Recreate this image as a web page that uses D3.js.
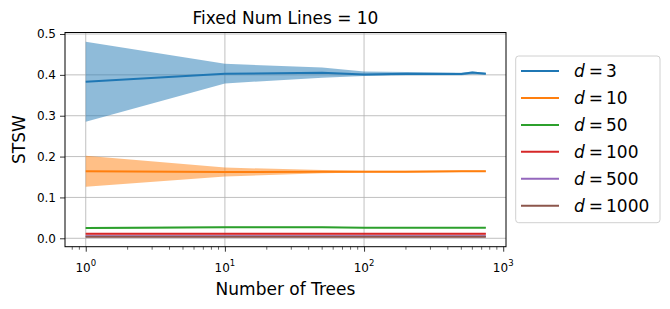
<!DOCTYPE html>
<html>
<head>
<meta charset="utf-8">
<script src="https://cdn.jsdelivr.net/npm/d3@7"></script>
<style>
  body { margin: 0; background: #fff; }
  svg { font-family: "DejaVu Sans", sans-serif; }
</style>
</head>
<body>
<script>
// number of trees sampled
const trees = [1, 10, 50, 100, 200, 500, 600, 750];

const dims = [3, 10, 50, 100, 500, 1000];
const colors = ["#1f77b4", "#ff7f0e", "#2ca02c", "#d62728", "#9467bd", "#8c564b"];

const meanD3 = [0.383, 0.403, 0.405, 0.401, 0.403, 0.402, 0.406, 0.403];
const loD3   = [0.285, 0.379, 0.393, 0.397, 0.399, 0.399, 0.401, 0.400];
const hiD3   = [0.481, 0.427, 0.418, 0.408, 0.407, 0.405, 0.408, 0.405];

const meanD10 = [0.164, 0.162, 0.163, 0.163, 0.163, 0.164, 0.164, 0.164];
const loD10   = [0.126, 0.151, 0.159, 0.161, 0.161, 0.162, 0.162, 0.162];
const hiD10   = [0.202, 0.173, 0.167, 0.165, 0.165, 0.166, 0.166, 0.166];

const meanD50 = [0.025, 0.027, 0.027, 0.026, 0.026, 0.026, 0.026, 0.026];
const loD50   = [0.023, 0.026, 0.026, 0.025, 0.025, 0.025, 0.025, 0.025];
const hiD50   = [0.027, 0.028, 0.028, 0.027, 0.027, 0.027, 0.027, 0.027];

const meanD100 = [0.011, 0.011, 0.011, 0.011, 0.011, 0.011, 0.011, 0.011];
const loD100   = [0.009, 0.009, 0.009, 0.009, 0.009, 0.009, 0.009, 0.009];
const hiD100   = [0.013, 0.013, 0.013, 0.013, 0.013, 0.013, 0.013, 0.013];

const meanD500 = [0.005, 0.005, 0.005, 0.005, 0.005, 0.005, 0.005, 0.005];
const loD500   = [0.004, 0.004, 0.004, 0.004, 0.004, 0.004, 0.004, 0.004];
const hiD500   = [0.006, 0.006, 0.006, 0.006, 0.006, 0.006, 0.006, 0.006];

const meanD1000 = [0.004, 0.004, 0.004, 0.004, 0.004, 0.004, 0.004, 0.004];
const loD1000   = [0.003, 0.003, 0.003, 0.003, 0.003, 0.003, 0.003, 0.003];
const hiD1000   = [0.005, 0.005, 0.005, 0.005, 0.005, 0.005, 0.005, 0.005];

const means = [meanD3, meanD10, meanD50, meanD100, meanD500, meanD1000];
const los = [loD3, loD10, loD50, loD100, loD500, loD1000];
const his = [hiD3, hiD10, hiD50, hiD100, hiD500, hiD1000];

const yTicks = [0.0, 0.1, 0.2, 0.3, 0.4, 0.5];
const xTicks = [1, 10, 100, 1000];

const W = 670, H = 309;
const box = {left: 65, right: 506, top: 32.5, bottom: 246.7};

const svg = d3.select("body").append("svg")
    .attr("width", W).attr("height", H);

const x = d3.scaleLog()
    .domain([Math.pow(10, -0.149), Math.pow(10, 3.02)])
    .range([box.left, box.right]);
const y = d3.scaleLinear()
    .domain([-0.0206, 0.5037])
    .range([box.bottom, box.top]);

// grid
svg.append("g").selectAll("line").data(xTicks.slice(0, 3)).enter().append("line")
    .attr("x1", d => x(d)).attr("x2", d => x(d))
    .attr("y1", box.top).attr("y2", box.bottom)
    .attr("stroke", "#b0b0b0").attr("stroke-width", 0.8);
svg.append("g").selectAll("line").data(yTicks).enter().append("line")
    .attr("x1", box.left).attr("x2", box.right)
    .attr("y1", d => y(d)).attr("y2", d => y(d))
    .attr("stroke", "#b0b0b0").attr("stroke-width", 0.8);

const plot = svg.append("g");

dims.forEach((d, k) => {
    let rows = trees.map((t, i) => ({t: t, m: means[k][i], lo: los[k][i], hi: his[k][i]}));
    plot.append("path").datum(rows)
        .attr("d", d3.area().x(r => x(r.t)).y0(r => y(r.lo)).y1(r => y(r.hi)))
        .attr("fill", colors[k]).attr("fill-opacity", 0.5);
    plot.append("path").datum(rows)
        .attr("d", d3.line().x(r => x(r.t)).y(r => y(r.m)))
        .attr("fill", "none").attr("stroke", colors[k]).attr("stroke-width", 2);
});

// axes
const yAxis = svg.append("g").attr("transform", `translate(${box.left},0)`)
    .call(d3.axisLeft(y).tickValues(yTicks).tickFormat(d3.format(".1f")).tickSize(5).tickPadding(4));
const xAxis = svg.append("g").attr("transform", `translate(0,${box.bottom})`)
    .call(d3.axisBottom(x).tickValues(xTicks).tickFormat("").tickSize(5));

// minor ticks
let minor = [];
for (let e = -1; e < 3; e++) for (let m = 2; m < 10; m++) {
    let v = m * Math.pow(10, e);
    if (x(v) >= box.left && x(v) <= box.right) minor.push(v);
}
svg.append("g").selectAll("line").data(minor).enter().append("line")
    .attr("x1", d => x(d)).attr("x2", d => x(d))
    .attr("y1", box.bottom).attr("y2", box.bottom + 3)
    .attr("stroke", "#000").attr("stroke-width", 0.6);

[yAxis, xAxis].forEach(a => {
    a.select(".domain").remove();
    a.selectAll(".tick line").attr("stroke", "#000").attr("stroke-width", 0.8);
    a.selectAll("text").attr("font-size", 12).attr("fill", "#000")
        .attr("font-family", "DejaVu Sans");
});

// x tick labels as 10^n
const xl = svg.append("g").selectAll("text").data(xTicks).enter().append("text")
    .attr("x", d => x(d)).attr("y", 271.5)
    .attr("text-anchor", "middle").attr("font-size", 12);
xl.append("tspan").text("10");
xl.append("tspan").attr("dy", -6).attr("font-size", 8.5).text(d => Math.round(Math.log10(d)));

// frame
svg.append("rect")
    .attr("x", box.left).attr("y", box.top)
    .attr("width", box.right - box.left).attr("height", box.bottom - box.top)
    .attr("fill", "none").attr("stroke", "#000").attr("stroke-width", 1);

// labels
svg.append("text").attr("x", (box.left + box.right) / 2).attr("y", 24)
    .attr("text-anchor", "middle").attr("font-size", 17).text("Fixed Num Lines = 10");
svg.append("text").attr("x", (box.left + box.right) / 2).attr("y", 295)
    .attr("text-anchor", "middle").attr("font-size", 17).text("Number of Trees");
svg.append("text").attr("transform", `translate(25,${(box.top + box.bottom) / 2}) rotate(-90)`)
    .attr("text-anchor", "middle").attr("font-size", 17).text("STSW");

// legend
const leg = svg.append("g");
leg.append("rect")
    .attr("x", 515.7).attr("y", 56).attr("width", 144.3).attr("height", 166.7)
    .attr("rx", 3).attr("fill", "#fff").attr("fill-opacity", 0.8)
    .attr("stroke", "#d0d0d0").attr("stroke-width", 1);
const items = leg.selectAll("g.item").data(dims).enter().append("g")
    .attr("class", "item")
    .attr("transform", (d, i) => `translate(0,${71 + i * 26.95})`);
items.append("line").attr("x1", 521).attr("x2", 559)
    .attr("stroke", (d, i) => colors[i]).attr("stroke-width", 2);
const lt = items.append("text").attr("x", 574).attr("y", 6).attr("font-size", 17);
lt.append("tspan").attr("font-style", "italic").text("d");
lt.append("tspan").attr("dx", 4).text("=");
lt.append("tspan").attr("dx", 3).text(d => d);
</script>
</body>
</html>
